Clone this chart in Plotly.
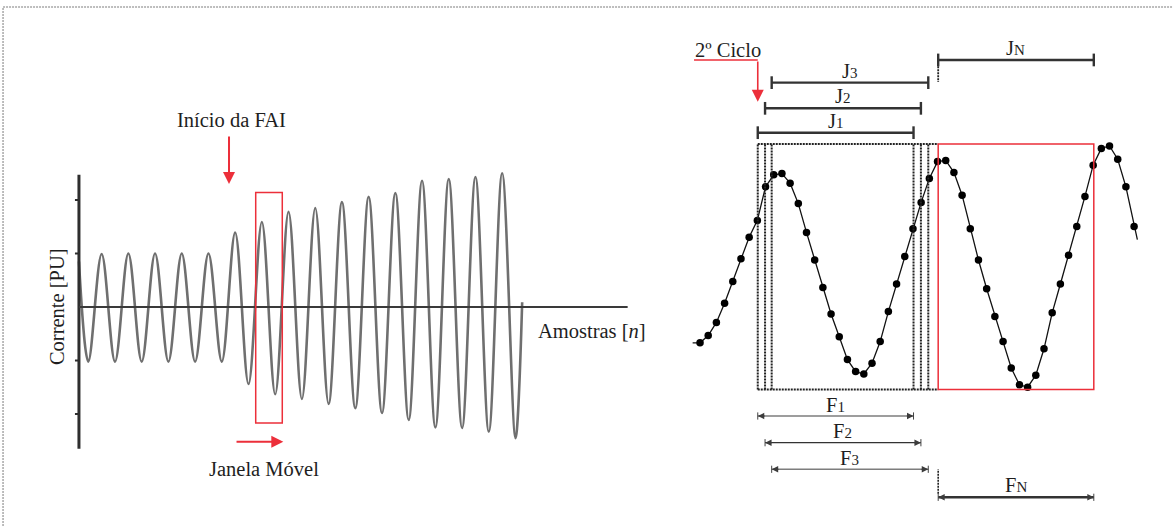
import plotly.graph_objects as go

# ---------------- Left panel data: current waveform (PU) vs samples n ----------------
wave_n = [-7, 0, 10, 20, 30, 40, 50, 60, 70, 80, 90, 100, 110, 120, 130, 140, 150, 160,
          170, 180, 190, 200, 210, 220, 230, 240, 250, 260, 270, 280, 290, 300, 310, 320, 325]
wave_pu = [0.85, -1.02, 0.99, -1.02, 1.00, -1.02, 1.00, -1.02, 1.00, -1.02, 1.00, -1.02,
           1.39, -1.44, 1.59, -1.63, 1.78, -1.72, 1.85, -1.81, 1.96, -1.89, 2.06, -1.98,
           2.13, -2.11, 2.36, -2.25, 2.39, -2.26, 2.43, -2.33, 2.50, -2.45, 0.09]
yticks_pu = [2, 1, -1, -2]
axis_n = [-7, 404]          # horizontal axis extent (samples)
axis_pu = [-2.65, 2.47]     # vertical axis extent (PU)
moving_window_n = [125.4, 145.3]
moving_window_pu = [-2.17, 2.14]
fault_start_n = 105.4

# ---------------- Right panel data: sampled signal ----------------
sample_idx = list(range(54))
sample_val = [-0.64, -0.58, -0.47, -0.31, -0.13, 0.06, 0.24, 0.38, 0.66, 0.76,
              0.77, 0.69, 0.52, 0.28, 0.05, -0.18, -0.40, -0.59, -0.78, -0.88,
              -0.90, -0.81, -0.63, -0.38, -0.15, 0.08, 0.31, 0.53, 0.73, 0.87,
              0.88, 0.78, 0.59, 0.31, 0.05, -0.19, -0.42, -0.63, -0.85, -0.99,
              -1.01, -0.91, -0.69, -0.39, -0.15, 0.09, 0.33, 0.58, 0.84, 0.98,
              1.00, 0.89, 0.66, 0.33]
line_head = (-0.9, -0.64)
line_tail = (53.4, 0.22)
win_start = [7.05, 7.94, 8.75]
win_end = [26.07, 26.97, 27.87]
winN = [29.08, 48.08]
box_val = [-1.03, 1.017]
J_y = [1.111, 1.314, 1.528]
JN_y = 1.717
F_y = [-1.25, -1.4725, -1.694]
FN_y = -1.9275
J_labels = ["1", "2", "3"]

RED = "#ec2f3a"
DARK = "#333333"
FONT = "Liberation Serif"
FS = 20.5

fig = go.Figure()

# left waveform
fig.add_trace(go.Scatter(x=wave_n, y=wave_pu, mode="lines",
                         line=dict(color="#6f6f6f", width=2.6, shape="spline", smoothing=1.0),
                         xaxis="x", yaxis="y", hoverinfo="skip"))

# right signal
fig.add_trace(go.Scatter(x=[line_head[0]] + sample_idx + [line_tail[0]],
                         y=[line_head[1]] + sample_val + [line_tail[1]],
                         mode="lines", line=dict(color="#111111", width=1.3),
                         xaxis="x2", yaxis="y2", hoverinfo="skip"))
fig.add_trace(go.Scatter(x=sample_idx, y=sample_val, mode="markers",
                         marker=dict(color="#000000", size=7.5),
                         xaxis="x2", yaxis="y2", hoverinfo="skip"))

shapes = []
annos = []


def seg(x0, y0, x1, y1, color, width, dash="solid", xr="x2", yr="y2"):
    shapes.append(dict(type="line", x0=x0, y0=y0, x1=x1, y1=y1, xref=xr, yref=yr,
                       line=dict(color=color, width=width, dash=dash)))


# ---- left axes ----
seg(axis_n[0], axis_pu[0], axis_n[0], axis_pu[1], "#2e2e2e", 3, xr="x", yr="y")
seg(axis_n[0], 0, axis_n[1], 0, "#3a3a3a", 2, xr="x", yr="y")
for t in yticks_pu:
    seg(axis_n[0] - 3, t, axis_n[0], t, "#2e2e2e", 2, xr="x", yr="y")

shapes.append(dict(type="rect", xref="x", yref="y",
                   x0=moving_window_n[0], x1=moving_window_n[1],
                   y0=moving_window_pu[0], y1=moving_window_pu[1],
                   line=dict(color=RED, width=1.5)))

# ---- right: dotted windows (vertical edges + shared top/bottom) ----
DOT = "2px,1px"
DOTC = "#222222"
for s, e in zip(win_start, win_end):
    seg(s, box_val[0], s, box_val[1], DOTC, 2, dash=DOT)
    seg(e, box_val[0], e, box_val[1], DOTC, 2, dash=DOT)
seg(win_start[0], box_val[1], winN[0], box_val[1], DOTC, 2, dash=DOT)
seg(win_start[0], box_val[0], winN[0], box_val[0], DOTC, 2, dash=DOT)
shapes.append(dict(type="rect", xref="x2", yref="y2", x0=winN[0], x1=winN[1],
                   y0=box_val[0], y1=box_val[1], line=dict(color=RED, width=1.5)))

# ---- J brackets ----
jh = 0.053
for s, e, y in zip(win_start, win_end, J_y):
    seg(s, y, e, y, DARK, 2.4)
    seg(s, y - jh, s, y + jh, DARK, 2.4)
    seg(e, y - jh, e, y + jh, DARK, 2.4)
seg(winN[0], JN_y, winN[1], JN_y, DARK, 2.4)
seg(winN[0], JN_y - jh, winN[0], JN_y + jh, DARK, 2.4)
seg(winN[1], JN_y - jh, winN[1], JN_y + jh, DARK, 2.4)
seg(winN[0], JN_y - jh, winN[0], J_y[2] + 0.005, DOTC, 1.8, dash=DOT)

# ---- F brackets ----
fh = 0.03
F_colors = ["#7d7d7d", "#333333", "#7d7d7d"]
F_widths = [1.6, 1.2, 1.6]


def fbracket(s, e, y, col, w):
    seg(s, y, e, y, col, w)
    seg(s, y - fh, s, y + fh, "#444444", 1)
    seg(e, y - fh, e, y + fh, "#444444", 1)
    for tip, tail in ((s, s + 1.0), (e, e - 1.0)):
        annos.append(dict(x=tip, y=y, ax=tail, ay=y, xref="x2", yref="y2",
                          axref="x2", ayref="y2", text="", showarrow=True,
                          arrowhead=2, arrowsize=1.0, arrowwidth=1.3,
                          arrowcolor="#3c3c3c", standoff=0))


for s, e, y, c, w in zip(win_start, win_end, F_y, F_colors, F_widths):
    fbracket(s, e, y, c, w)
fbracket(winN[0], winN[1], FN_y, "#333333", 2.6)
seg(winN[0], FN_y + fh, winN[0], F_y[2], DOTC, 1.6, dash=DOT)

# ---- 2º Ciclo arrow ----
seg(line_head[0] + 0.17, JN_y, win_start[0], JN_y, RED, 1.6)
annos.append(dict(x=win_start[0], y=1.369, ax=win_start[0], ay=JN_y,
                  xref="x2", yref="y2", axref="x2", ayref="y2", text="",
                  showarrow=True, arrowhead=2, arrowsize=1.5, arrowwidth=1.6,
                  arrowcolor=RED, standoff=0))

# ---- left arrows ----
annos.append(dict(x=fault_start_n, y=2.30, ax=fault_start_n, ay=3.215,
                  xref="x", yref="y", axref="x", ayref="y", text="",
                  showarrow=True, arrowhead=2, arrowsize=1.2, arrowwidth=2,
                  arrowcolor=RED, standoff=0))
annos.append(dict(x=146.1, y=-2.518, ax=109.9, ay=-2.518,
                  xref="x", yref="y", axref="x", ayref="y", text="",
                  showarrow=True, arrowhead=2, arrowsize=1.2, arrowwidth=2,
                  arrowcolor=RED, standoff=0))


def label(text, x, y, xr, yr, size=FS, angle=0):
    annos.append(dict(text=text, x=x, y=y, xref=xr, yref=yr, showarrow=False,
                      font=dict(family=FONT, size=size, color="#1e1e1e"),
                      textangle=angle, xanchor="center", yanchor="middle"))


label("Início da FAI", 107.6, 3.50, "x", "y")
label("Janela Móvel", 131.5, -3.02, "x", "y")
label("Corrente [PU]", -23.4, 0.0, "x", "y", angle=-90)
label("Amostras [<i>n</i>]", 377.3, -0.45, "x", "y")

sub = "<span style='font-size:15px'>%s</span>"
for s, e, y, k in zip(win_start, win_end, J_y, J_labels):
    label("J" + sub % k, (s + e) / 2, y + 0.10, "x2", "y2")
label("J" + sub % "N", (winN[0] + winN[1]) / 2, JN_y + 0.10, "x2", "y2")
for s, e, y, k in zip(win_start, win_end, F_y, J_labels):
    label("F" + sub % k, (s + e) / 2, y + 0.095, "x2", "y2")
label("F" + sub % "N", (winN[0] + winN[1]) / 2, FN_y + 0.10, "x2", "y2")
label("2º Ciclo", 3.42, 1.80, "x2", "y2")

# ---- page border (dotted) ----
shapes.append(dict(type="line", xref="paper", yref="paper", x0=0.0026, x1=1,
                   y0=0.9867, y1=0.9867, line=dict(color="#a8a8a8", width=1.5, dash="2px,1px")))
shapes.append(dict(type="line", xref="paper", yref="paper", x0=0.0026, x1=0.0026,
                   y0=0, y1=0.9867, line=dict(color="#a8a8a8", width=1.5, dash="2px,1px")))

ax_hidden = dict(visible=False, showgrid=False, zeroline=False)
fig.update_layout(
    width=1173, height=526,
    margin=dict(l=0, r=0, t=0, b=0, pad=0),
    paper_bgcolor="white", plot_bgcolor="white",
    showlegend=False,
    xaxis=dict(range=[-66.14, 812.5], domain=[0, 1], **ax_hidden),
    yaxis=dict(range=[-4.093, 5.738], domain=[0, 1], **ax_hidden),
    xaxis2=dict(range=[-85.47, 57.75], overlaying="x", anchor="y2", **ax_hidden),
    yaxis2=dict(range=[-2.1667, 2.2167], overlaying="y", anchor="x2", **ax_hidden),
    shapes=shapes,
    annotations=annos,
)

fig.write_html("out.html", config={"displayModeBar": False},
               post_script="document.body.style.margin='0';")
